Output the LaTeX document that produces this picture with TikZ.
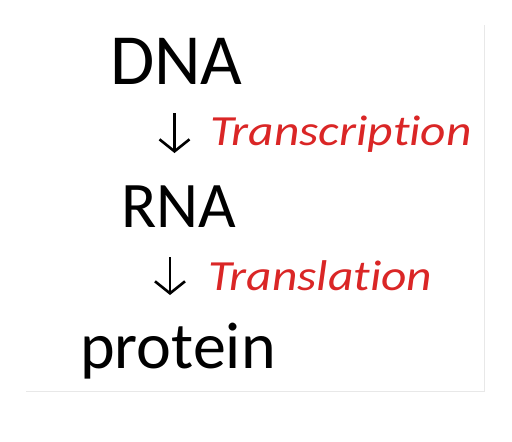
\documentclass[tikz,border=0pt]{standalone}
\usepackage{fontspec}
\setmainfont[Ligatures=NoCommon]{Carlito}
\newfontfamily\labelfont[Ligatures=NoCommon, FakeStretch=1.15]{Carlito}
\usetikzlibrary{arrows.meta}
\definecolor{redtxt}{RGB}{218,38,38}
\definecolor{framegray}{RGB}{232,232,232}
\tikzset{
  big/.style={inner sep=0pt, anchor=base west, font=\fontsize{70}{70}\selectfont},
  label/.style={inner sep=0pt, anchor=base west, text=redtxt, font=\labelfont\fontsize{43}{43}\selectfont\itshape},
  downarrow/.style={line width=2.6pt, -{Straight Barb[length=12pt, width=30pt, line width=2.6pt]}},
  framing/.style={draw=framegray, line width=1pt}
}
\begin{document}
\begin{tikzpicture}[x=1pt,y=-1pt]
\useasboundingbox (0,0) rectangle (512,442);
\coordinate (f1) at (484,25);
\coordinate (f2) at (484,391);
\coordinate (f3) at (26,391);
\draw[framing] (f1) -- (f2) -- (f3);
\node[big, font=\fontsize{72}{72}\selectfont] (dna) at (110,84) {DNA};
\node[big, font=\fontsize{65}{65}\selectfont] (rna) at (121,227) {RNA};
\node[big, font=\fontsize{66}{66}\selectfont] (prot) at (80,368) {protein};
\coordinate (a1s) at (174.5,113);
\coordinate (a1e) at (174.5,153);
\draw[downarrow] (a1s) -- (a1e);
\node[label] (tr1) at (210,145) {Transcription};
\coordinate (a2s) at (170,257);
\coordinate (a2e) at (170,295);
\draw[downarrow] (a2s) -- (a2e);
\node[label] (tr2) at (208,290) {Translation};
\end{tikzpicture}
\end{document}
